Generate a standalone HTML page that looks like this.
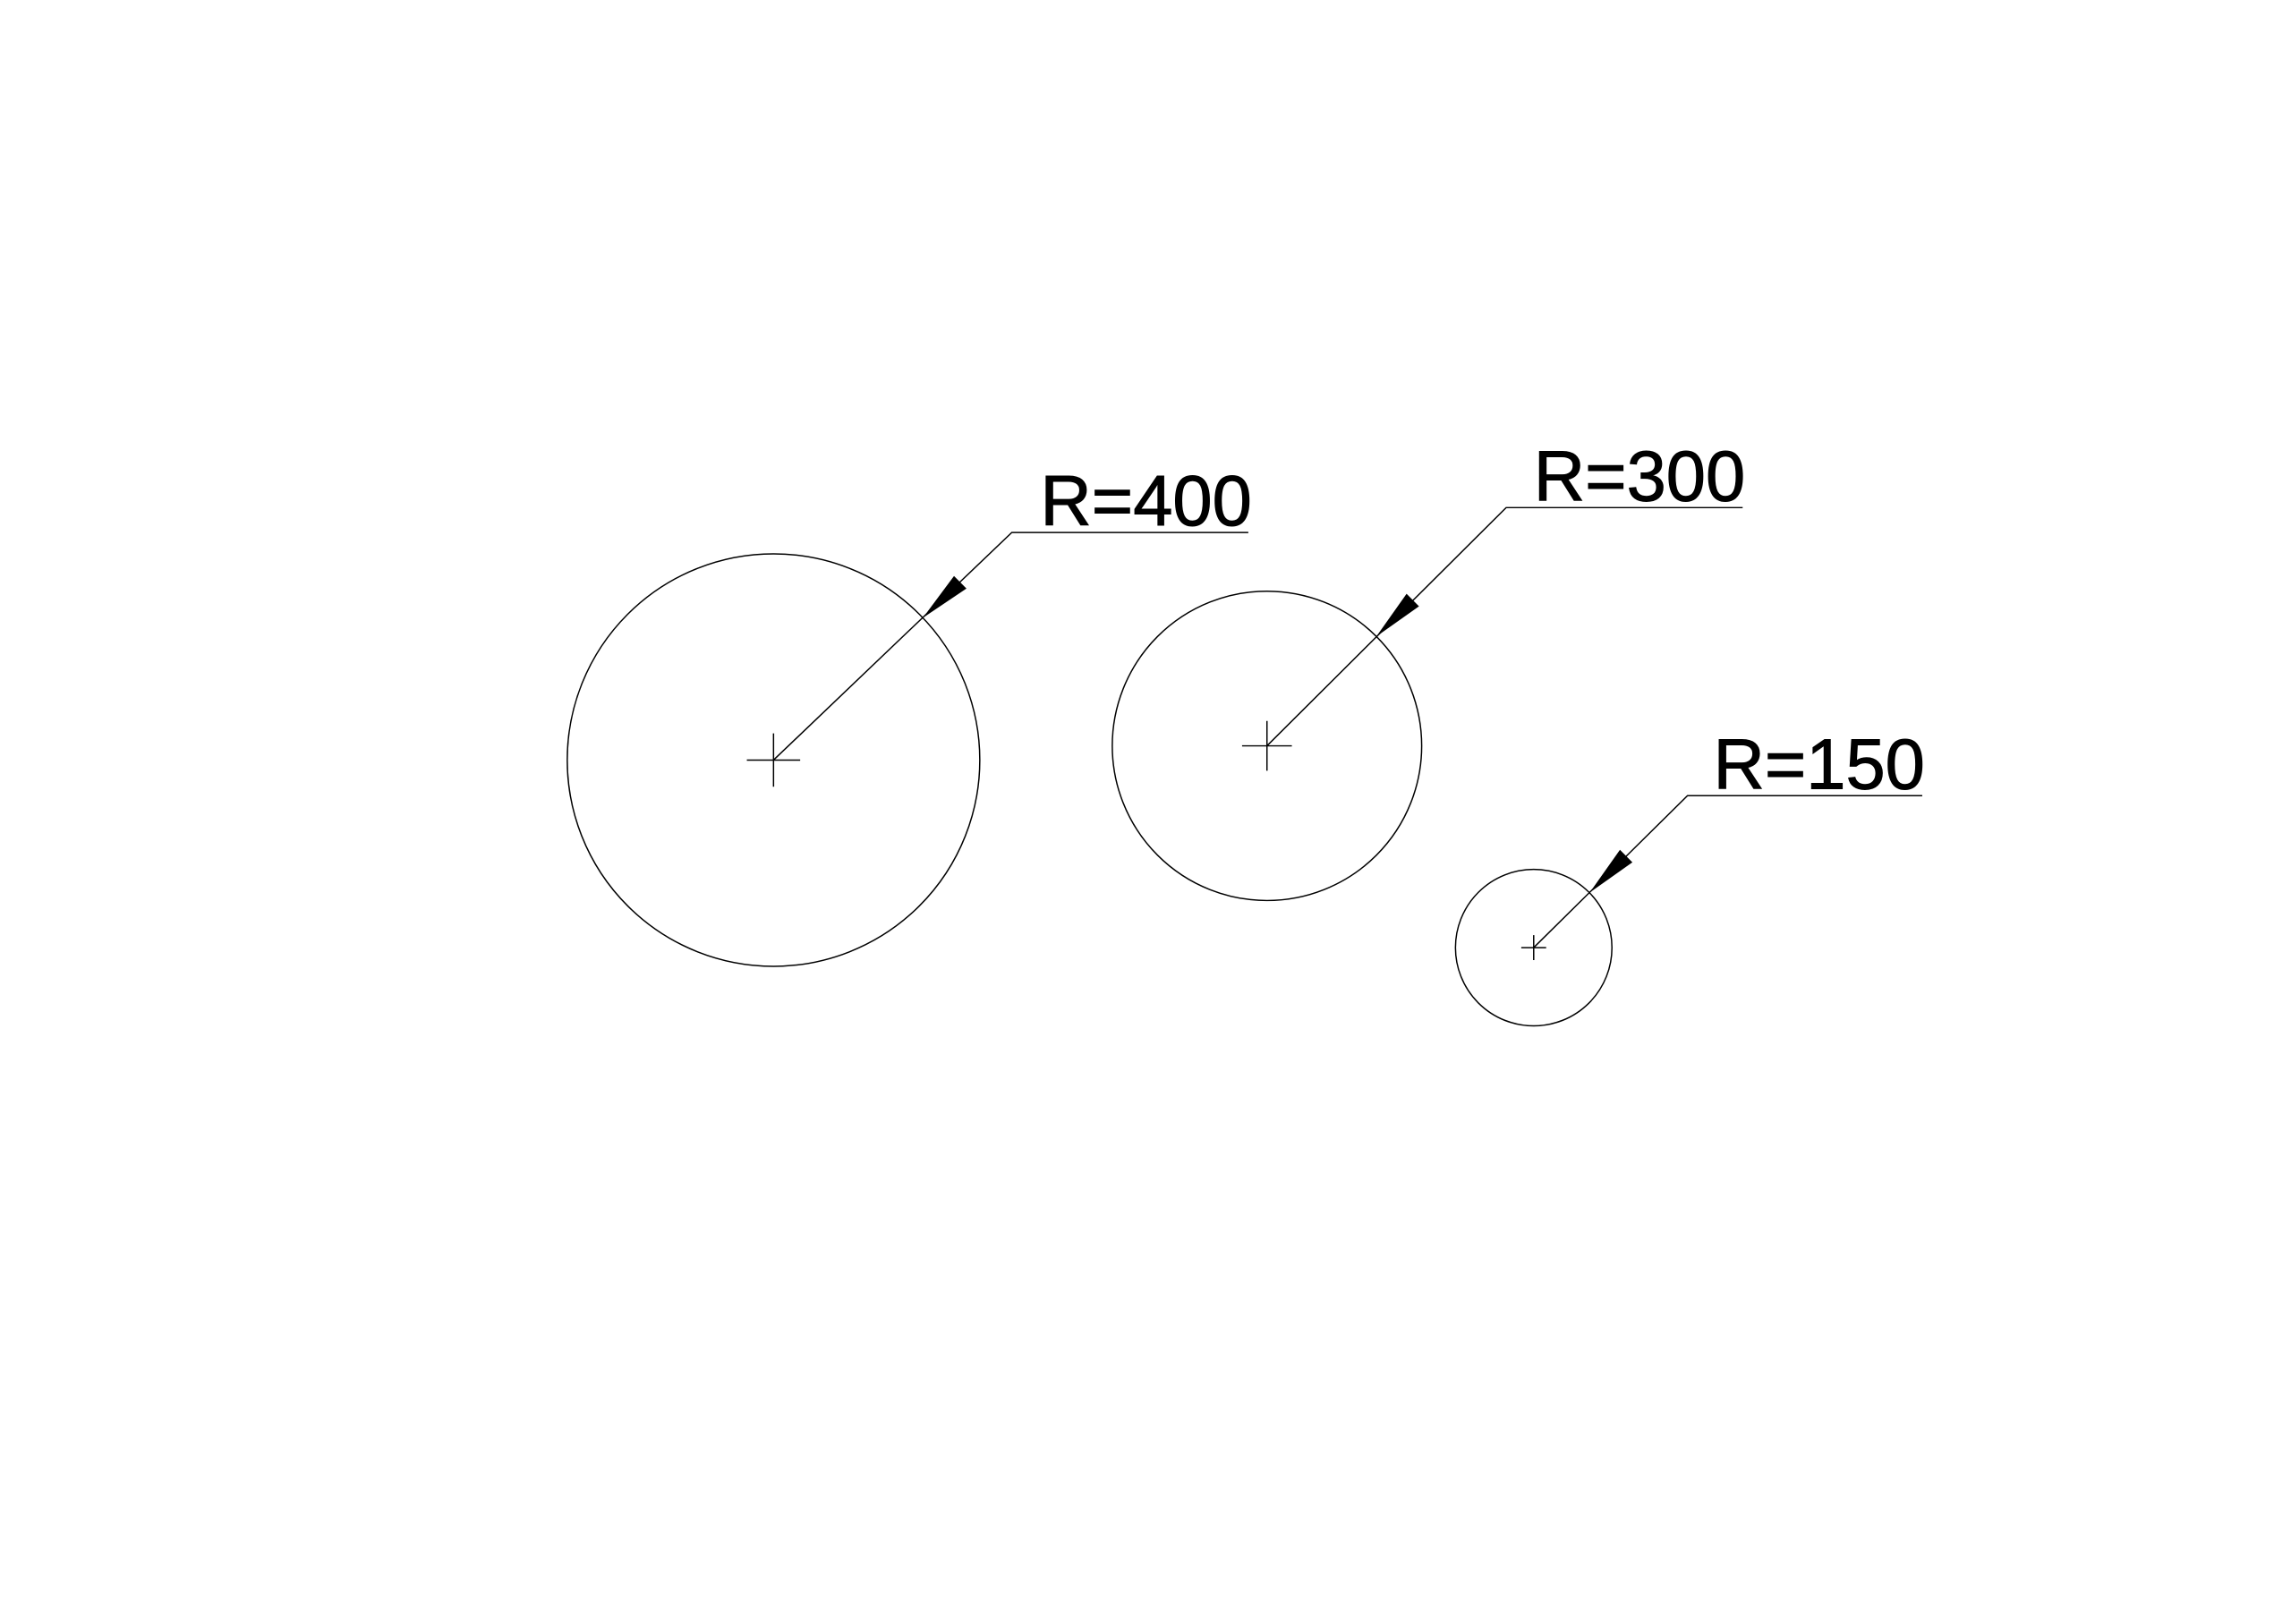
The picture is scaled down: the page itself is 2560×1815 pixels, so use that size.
<!DOCTYPE html>
<html><head><style>html,body{margin:0;padding:0;background:#fff}</style></head>
<body>
<svg width="2560" height="1810" viewBox="0 0 2560 1810" xmlns="http://www.w3.org/2000/svg">
<rect width="2560" height="1810" fill="#fff"/>
<g transform="translate(0,3) scale(0.9935)">
<g fill="none" stroke="#000" stroke-width="1.5">
<circle cx="870" cy="852" r="232"/>
<circle cx="1425" cy="836" r="174"/>
<circle cx="1725" cy="1063" r="88"/>
<path d="M840 852H900M870 822V882"/>
<path d="M1397 836H1453M1425 808V864"/>
<path d="M1711 1063H1739M1725 1049V1077"/>
<path d="M870 852L1138 596H1404"/>
<path d="M1425 836L1694 568H1960"/>
<path d="M1725 1063L1898 892H2162"/>
</g>
<g fill="#000">
<polygon points="1038,692 1087,659 1073,645"/>
<polygon points="1548,713 1596,679 1582,665"/>
<polygon points="1788,1001 1836,967 1822,953"/>
</g>
<g font-family="Liberation Sans, Arial, sans-serif" font-size="80" fill="#000" stroke="#000" stroke-width="1">
<text x="1170" y="588">R=400</text>
<text x="1725" y="560">R=300</text>
<text x="1927" y="884">R=150</text>
</g>
</g>
</svg>
</body></html>
